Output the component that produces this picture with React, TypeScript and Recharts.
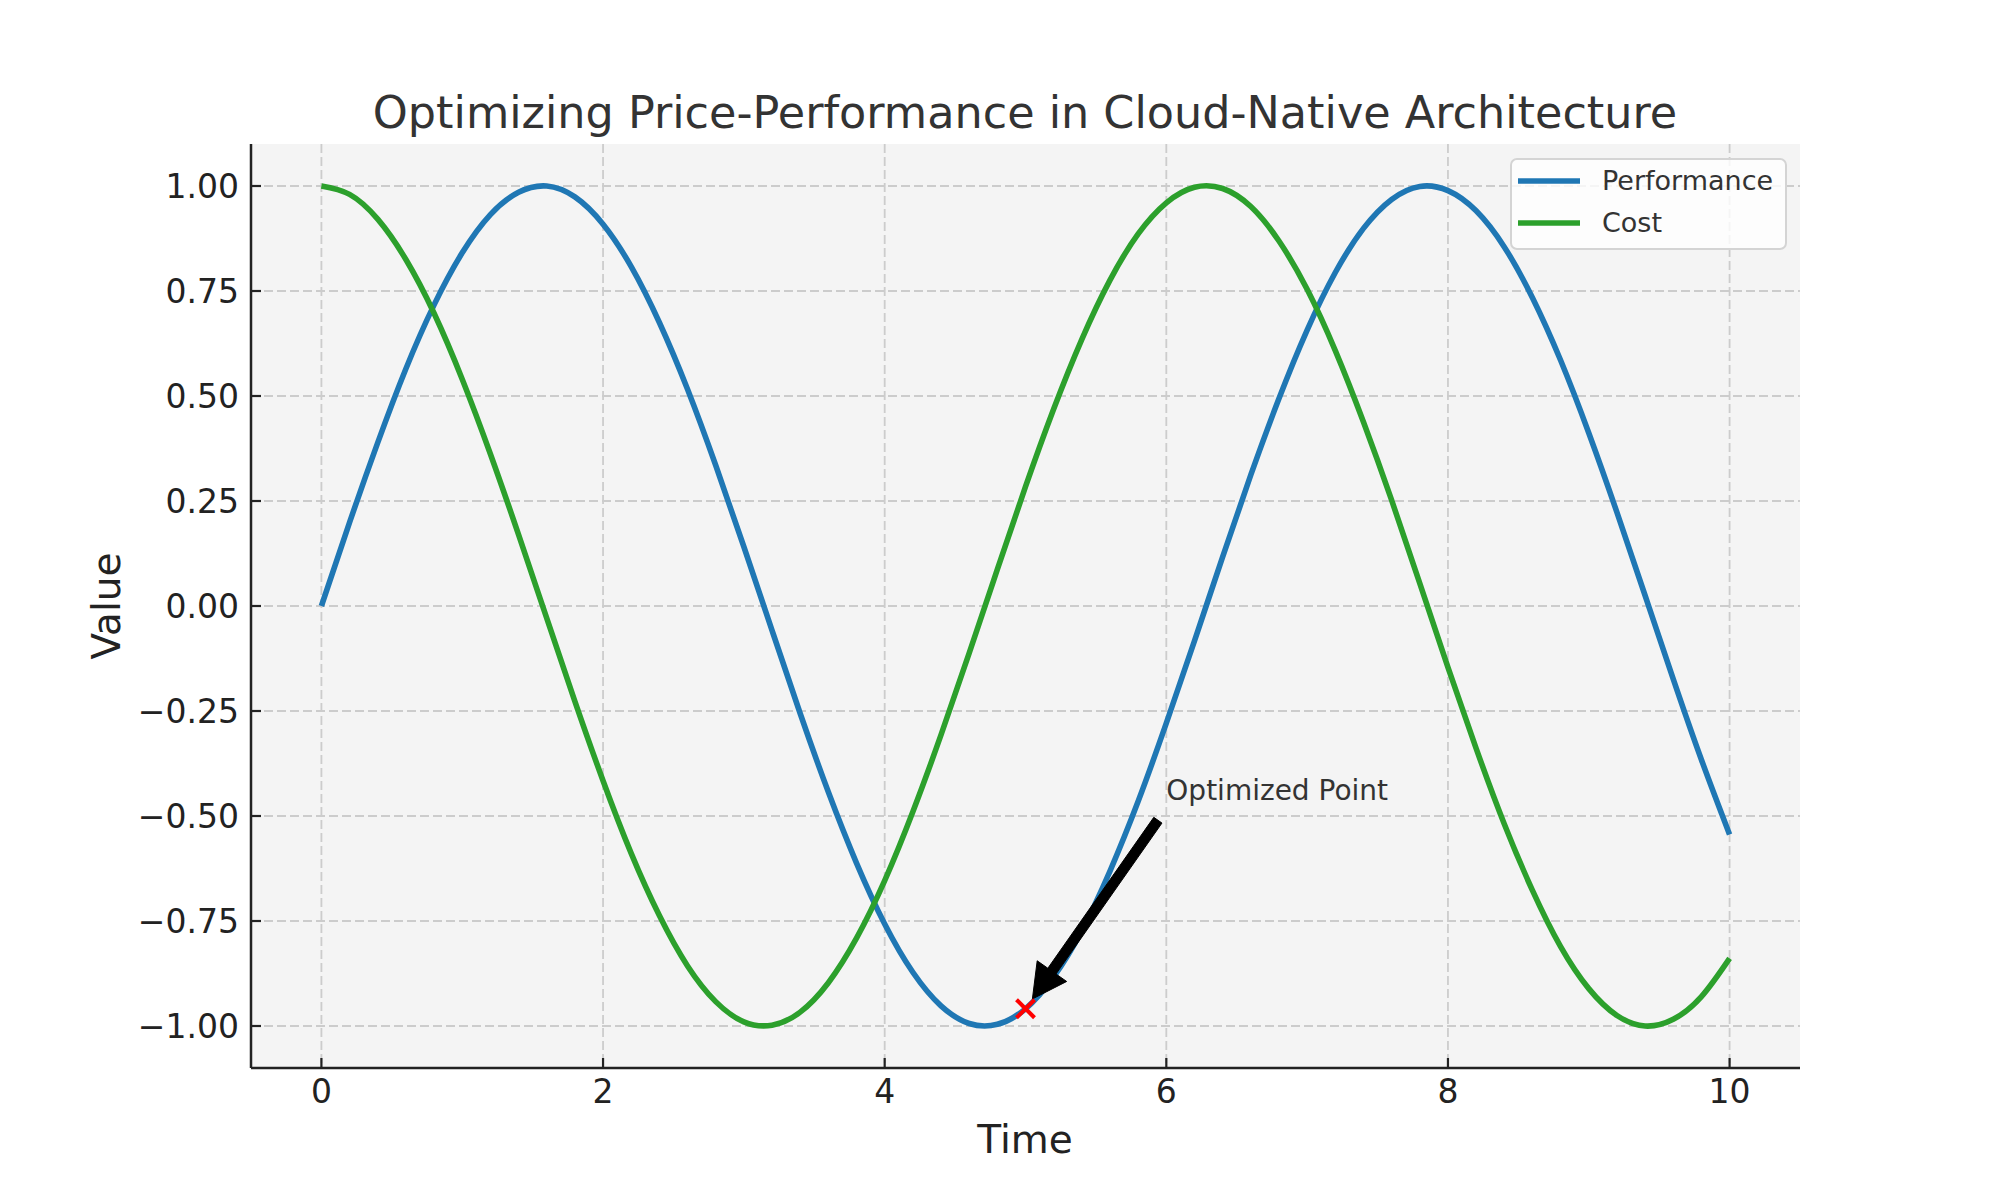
import React from "react";
import {
  LineChart,
  Line,
  XAxis,
  YAxis,
  CartesianGrid,
  Legend,
  ReferenceLine,
  ReferenceDot,
} from "recharts";

const TIME = [
  0, 0.2, 0.4, 0.6, 0.8, 1.0, 1.2, 1.4, 1.6, 1.8, 2.0, 2.2, 2.4, 2.6, 2.8, 3.0, 3.2,
  3.4, 3.6, 3.8, 4.0, 4.2, 4.4, 4.6, 4.8, 5.0, 5.2, 5.4, 5.6, 5.8, 6.0, 6.2, 6.4, 6.6,
  6.8, 7.0, 7.2, 7.4, 7.6, 7.8, 8.0, 8.2, 8.4, 8.6, 8.8, 9.0, 9.2, 9.4, 9.6, 9.8, 10.0,
];

const PERFORMANCE = [
  0.0, 0.199, 0.389, 0.565, 0.717, 0.841, 0.932, 0.985, 1.0, 0.974, 0.909, 0.808, 0.675,
  0.516, 0.335, 0.141, -0.058, -0.256, -0.443, -0.612, -0.757, -0.872, -0.952, -0.994,
  -0.996, -0.959, -0.883, -0.773, -0.631, -0.465, -0.279, -0.083, 0.117, 0.312, 0.494,
  0.657, 0.794, 0.899, 0.968, 0.999, 0.989, 0.941, 0.855, 0.734, 0.585, 0.412, 0.223,
  0.025, -0.174, -0.366, -0.544,
];

const COST = [
  1.0, 0.98, 0.921, 0.825, 0.697, 0.54, 0.362, 0.17, -0.029, -0.227, -0.416, -0.589,
  -0.737, -0.857, -0.942, -0.99, -0.998, -0.967, -0.897, -0.791, -0.654, -0.49, -0.307,
  -0.112, 0.087, 0.284, 0.469, 0.635, 0.776, 0.886, 0.96, 0.997, 0.994, 0.951, 0.869,
  0.754, 0.608, 0.438, 0.252, 0.054, -0.146, -0.339, -0.519, -0.677, -0.811, -0.911,
  -0.975, -1.0, -0.984, -0.93, -0.839,
];

const X_TICKS = [0, 2, 4, 6, 8, 10];
const Y_TICKS = [-1, -0.75, -0.5, -0.25, 0, 0.25, 0.5, 0.75, 1];
const X_DOMAIN: [number, number] = [-0.5, 10.5];
const Y_DOMAIN: [number, number] = [-1.1, 1.1];

// annotation: optimized point, arrow tail and label anchor (data coords)
const OPT_POINT = { x: 5, y: -0.959 };
const ARROW_TAIL = { x: 5.94, y: -0.51 };
const LABEL_POS = { x: 6, y: -0.45 };

const SERIES = [
  { key: "performance", name: "Performance", color: "#1f77b4" },
  { key: "cost", name: "Cost", color: "#2ca02c" },
];

const data = TIME.map((t, i) => ({
  t,
  performance: PERFORMANCE[i],
  cost: COST[i],
}));

const FONT = "'DejaVu Sans', sans-serif";
const INK = "#222";

const fmtY = (v: number) => (v < 0 ? "\u2212" : "") + Math.abs(v).toFixed(2);

function XTick(props: any) {
  const { x, y, payload } = props;
  return (
    <g>
      <line x1={x} y1={y} x2={x} y2={y - 10} stroke={INK} strokeWidth={2.2} />
      <text x={x} y={y + 35} textAnchor="middle" fontSize={33} fill={INK} fontFamily={FONT}>
        {payload.value}
      </text>
    </g>
  );
}

function YTick(props: any) {
  const { x, y, payload } = props;
  return (
    <g>
      <line x1={x} y1={y} x2={x + 10} y2={y} stroke={INK} strokeWidth={2.2} />
      <text
        x={x - 12}
        y={y}
        dy={12}
        textAnchor="end"
        fontSize={33}
        fill={INK}
        fontFamily={FONT}
      >
        {fmtY(payload.value)}
      </text>
    </g>
  );
}

function ArrowShape(props: any) {
  const { x1, y1, x2, y2 } = props;
  if ([x1, y1, x2, y2].some((v) => typeof v !== "number")) return null;
  const dx = x2 - x1;
  const dy = y2 - y1;
  const len = Math.hypot(dx, dy);
  const ux = dx / len;
  const uy = dy / len;
  const nx = -uy;
  const ny = ux;
  const tipX = x2 - ux * 12;
  const tipY = y2 - uy * 12;
  const baseX = tipX - ux * 34;
  const baseY = tipY - uy * 34;
  const w = 5;
  const hw = 18;
  const pts = [
    [x1 + nx * w, y1 + ny * w],
    [baseX + nx * w, baseY + ny * w],
    [baseX + nx * hw, baseY + ny * hw],
    [tipX, tipY],
    [baseX - nx * hw, baseY - ny * hw],
    [baseX - nx * w, baseY - ny * w],
    [x1 - nx * w, y1 - ny * w],
  ]
    .map((p) => p.join(","))
    .join(" ");
  return <polygon points={pts} fill="#000" stroke="#000" strokeWidth={1} />;
}

function CrossMarker(props: any) {
  const { cx, cy } = props;
  const s = 9;
  return (
    <g stroke="#ff0000" strokeWidth={4}>
      <line x1={cx - s} y1={cy - s} x2={cx + s} y2={cy + s} />
      <line x1={cx - s} y1={cy + s} x2={cx + s} y2={cy - s} />
    </g>
  );
}

function AnnotationText(props: any) {
  const { cx, cy } = props;
  return (
    <text x={cx} y={cy} dy={5} fontSize={28} fill="#333" fontFamily={FONT}>
      Optimized Point
    </text>
  );
}

function LegendBox() {
  return (
    <div
      style={{
        boxSizing: "border-box",
        width: 277,
        height: 92,
        background: "rgba(255,255,255,0.8)",
        border: "2px solid #d4d4d4",
        borderRadius: 7,
        fontFamily: FONT,
      }}
    >
      {SERIES.map((s) => (
        <div
          key={s.key}
          style={{ display: "flex", alignItems: "center", height: 42, paddingLeft: 6 }}
        >
          <svg width={64} height={10} style={{ display: "block", flexShrink: 0 }}>
            <line x1={0} y1={5} x2={62} y2={5} stroke={s.color} strokeWidth={5.5} />
          </svg>
          <span
            style={{
              marginLeft: 20,
              fontSize: 27,
              color: "#333",
              lineHeight: "42px",
              whiteSpace: "nowrap",
            }}
          >
            {s.name}
          </span>
        </div>
      ))}
    </div>
  );
}

// grid only at the tick values, not at the plot edges
const hGrid = ({ offset }: any) =>
  Y_TICKS.map(
    (v) => offset.top + ((Y_DOMAIN[1] - v) / (Y_DOMAIN[1] - Y_DOMAIN[0])) * offset.height
  );
const vGrid = ({ offset }: any) =>
  X_TICKS.map(
    (v) => offset.left + ((v - X_DOMAIN[0]) / (X_DOMAIN[1] - X_DOMAIN[0])) * offset.width
  );

export default function App() {
  return (
    <div
      style={{
        position: "absolute",
        left: 0,
        top: 0,
        width: 2000,
        height: 1200,
        background: "#fff",
        fontFamily: FONT,
      }}
    >
      <div
        style={{
          position: "absolute",
          left: 0,
          width: 2050,
          top: 83,
          textAlign: "center",
          fontSize: 44.5,
          color: "#333",
          lineHeight: "60px",
          whiteSpace: "nowrap",
        }}
      >
        Optimizing Price-Performance in Cloud-Native Architecture
      </div>
      <LineChart
        width={2000}
        height={1200}
        data={data}
        margin={{ top: 144, right: 200, bottom: 72, left: 151 }}
      >
        <CartesianGrid
          fill="#f4f4f4"
          stroke="#cccccc"
          strokeWidth={1.8}
          strokeDasharray="9 4"
          horizontalCoordinatesGenerator={hGrid}
          verticalCoordinatesGenerator={vGrid}
        />
        <XAxis
          dataKey="t"
          type="number"
          domain={X_DOMAIN}
          ticks={X_TICKS}
          height={60}
          tickSize={0}
          tickMargin={0}
          tickLine={false}
          axisLine={{ stroke: INK, strokeWidth: 2.5 }}
          tick={<XTick />}
          interval={0}
          label={{
            content: () => (
              <text
                x={1025}
                y={1153}
                textAnchor="middle"
                fontSize={39}
                fill={INK}
                fontFamily={FONT}
              >
                Time
              </text>
            ),
          }}
        />
        <YAxis
          type="number"
          domain={Y_DOMAIN}
          ticks={Y_TICKS}
          width={100}
          tickSize={0}
          tickMargin={0}
          tickLine={false}
          axisLine={{ stroke: INK, strokeWidth: 2.5 }}
          tick={<YTick />}
          interval={0}
          label={{
            content: () => (
              <text
                x={106}
                y={606}
                transform="rotate(-90 106 606)"
                textAnchor="middle"
                dominantBaseline="central"
                fontSize={39}
                fill={INK}
                fontFamily={FONT}
              >
                Value
              </text>
            ),
          }}
        />
        <Legend
          layout="horizontal"
          align="center"
          verticalAlign="middle"
          wrapperStyle={{ left: 1510, top: 158, width: 277, height: 92 }}
          content={() => <LegendBox />}
        />
        {SERIES.map((s) => (
          <Line
            key={s.key}
            dataKey={s.key}
            name={s.name}
            type="natural"
            stroke={s.color}
            strokeWidth={5.6}
            dot={false}
            isAnimationActive={false}
          />
        ))}
        <ReferenceLine
          segment={[ARROW_TAIL, OPT_POINT]}
          shape={<ArrowShape />}
          ifOverflow="visible"
        />
        <ReferenceDot
          x={OPT_POINT.x}
          y={OPT_POINT.y}
          shape={<CrossMarker />}
          ifOverflow="visible"
        />
        <ReferenceDot
          x={LABEL_POS.x}
          y={LABEL_POS.y}
          shape={<AnnotationText />}
          ifOverflow="visible"
        />
      </LineChart>
    </div>
  );
}
